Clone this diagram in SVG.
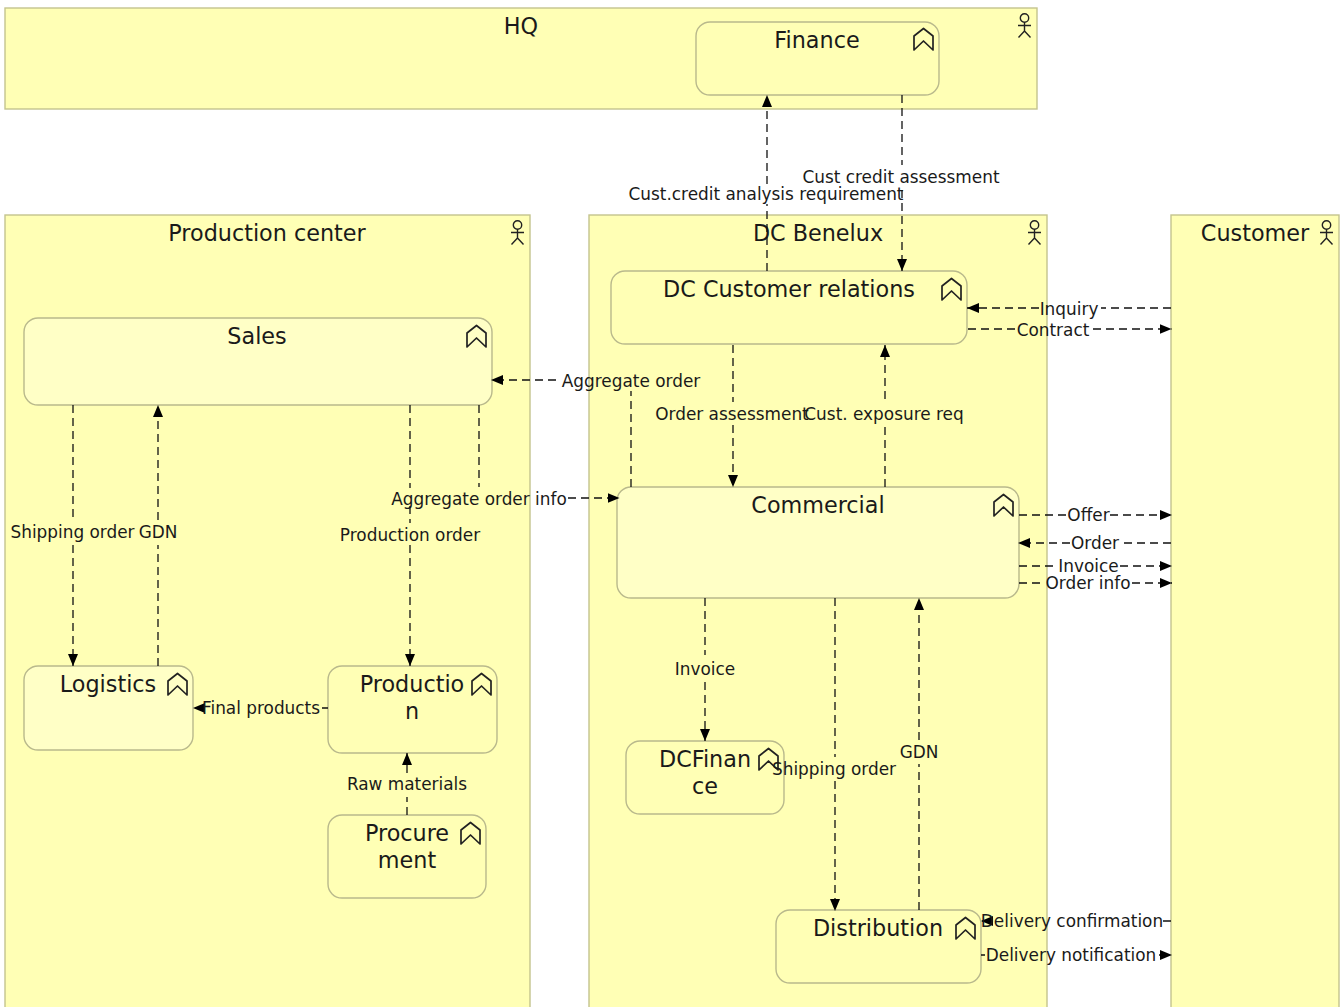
<svg xmlns="http://www.w3.org/2000/svg" width="1344" height="1007" viewBox="0 0 1344 1007">
<style>
text{font-family:"DejaVu Sans",sans-serif;fill:#1a1a1a;text-anchor:middle}
.grp{fill:#ffffb5;stroke:#c4c48e;stroke-width:1.4}
.fn{fill:#ffffb5;stroke:#b9b98c;stroke-width:1.4}
.fl{fill:#ffffc6;stroke:#b9b98c;stroke-width:1.4}
.t{font-size:22.3px}
.e{font-size:16.9px}
.c{fill:none;stroke:#111;stroke-width:1.3;stroke-dasharray:8 5;marker-end:url(#a)}
.n{fill:none;stroke:#111;stroke-width:1.3;stroke-dasharray:8 5}
.i{fill:none;stroke:#222;stroke-width:1.7;stroke-linejoin:round}
</style>
<defs>
<marker id="a" markerUnits="userSpaceOnUse" markerWidth="13" markerHeight="13" refX="12" refY="6.500" orient="auto"><path d="M0 1.500 L12 6.500 L0 11.500 Z" fill="#000"/></marker>
<g id="fi"><path class="i" d="M0 7.500 L9.500 0 L19 7.500 V21.500 L9.500 12.500 L0 21.500 Z"/></g>
<g id="ac"><circle class="i" cx="7" cy="5" r="4.200" style="stroke-width:1.400"/><path class="i" style="stroke-width:1.400" d="M7 9.300 V18 M0.500 12.500 H13.500 M7 18 L1 24.500 M7 18 L13 24.500"/></g>
</defs>
<g id="hq"><rect class="grp" x="5" y="8" width="1032" height="101"/><text class="t" x="521" y="33.500">HQ</text><use href="#ac" x="1017.500" y="13"/></g>
<g id="production-center"><rect class="grp" x="5" y="215" width="525" height="800"/><text class="t" x="267" y="240.500">Production center</text><use href="#ac" x="510.500" y="220"/></g>
<g id="dc-benelux"><rect class="grp" x="589" y="215" width="458" height="800"/><text class="t" x="818" y="240.500">DC Benelux</text><use href="#ac" x="1027.500" y="220"/></g>
<g id="customer"><rect class="grp" x="1171" y="215" width="168" height="800"/><text class="t" x="1255" y="240.500">Customer</text><use href="#ac" x="1319.500" y="220"/></g>
<g id="finance"><rect class="fn" x="696" y="22" width="243" height="73" rx="14"/><text class="t" x="817" y="47.500">Finance</text><use href="#fi" x="914" y="28.500"/></g>
<g id="dc-customer-relations"><rect class="fn" x="611" y="271" width="356" height="73" rx="14"/><text class="t" x="789" y="296.500">DC Customer relations</text><use href="#fi" x="942" y="278.500"/></g>
<g id="sales"><rect class="fl" x="24" y="318" width="468" height="87" rx="14"/><text class="t" x="257" y="343.500">Sales</text><use href="#fi" x="467" y="325.500"/></g>
<g id="commercial"><rect class="fl" x="617" y="487" width="402" height="111" rx="14"/><text class="t" x="818" y="512.500">Commercial</text><use href="#fi" x="994" y="494.500"/></g>
<g id="logistics"><rect class="fl" x="24" y="666" width="169" height="84" rx="14"/><text class="t" x="108" y="691.500">Logistics</text><use href="#fi" x="168" y="673.500"/></g>
<g id="production"><rect class="fn" x="328" y="666" width="169" height="87" rx="14"/><text class="t" x="412" y="691.500">Productio</text><text class="t" x="412" y="718.500">n</text><use href="#fi" x="472" y="673.500"/></g>
<g id="procurement"><rect class="fn" x="328" y="815" width="158" height="83" rx="14"/><text class="t" x="407" y="840.500">Procure</text><text class="t" x="407" y="867.500">ment</text><use href="#fi" x="461" y="822.500"/></g>
<g id="dcfinance"><rect class="fn" x="626" y="741" width="158" height="73" rx="14"/><text class="t" x="705" y="766.500">DCFinan</text><text class="t" x="705" y="793.500">ce</text><use href="#fi" x="759" y="748.500"/></g>
<g id="distribution"><rect class="fn" x="776" y="910" width="205" height="73" rx="14"/><text class="t" x="878" y="935.500">Distribution</text><use href="#fi" x="956" y="917.500"/></g>
<g id="connectors">
<path class="c" d="M767 271 V204 M767 184 V95"/><text class="e" x="766" y="199.500">Cust.credit analysis requirement</text>
<path class="c" d="M902 95 V165 M902 190 V271"/><text class="e" x="901" y="182.500">Cust credit assessment</text>
<path class="c" d="M1171 308 H1101 M1039 308 H967"/><text class="e" x="1069" y="314.500">Inquiry</text>
<path class="c" d="M968 329 H1016 M1093 329 H1171.500"/><text class="e" x="1053" y="335.500">Contract</text>
<path class="c" d="M631 487 V391 M556 380 H491"/><text class="e" x="631" y="386.500">Aggregate order</text>
<path class="n" d="M479 405 V487"/><path class="c" d="M568 498 H619.500"/><text class="e" x="479" y="504.500">Aggregate order info</text>
<path class="c" d="M410 405 V488 M410 506 V523 M410 545 V666"/><text class="e" x="410" y="541">Production order</text>
<path class="c" d="M73 405 V520 M73 545 V666"/><text class="e" x="72.500" y="538">Shipping order</text>
<path class="c" d="M158 666 V545 M158 520 V405"/><text class="e" x="158" y="538">GDN</text>
<path class="c" d="M328 708 H322 M204 708 H193"/><text class="e" x="261" y="714">Final products</text>
<path class="c" d="M407 815 V797 M407 773 V753"/><text class="e" x="407" y="790">Raw materials</text>
<path class="c" d="M733 345 V402 M733 425 V487"/><text class="e" x="732" y="419.500">Order assessment</text>
<path class="c" d="M885 487 V425 M885 399 V345"/><text class="e" x="884" y="419.500">Cust. exposure req</text>
<path class="c" d="M1019 515 H1066 M1110 515 H1172"/><text class="e" x="1088.500" y="521">Offer</text>
<path class="c" d="M1171 543 H1120 M1070 543 H1018"/><text class="e" x="1095" y="549">Order</text>
<path class="c" d="M1019 566 H1054 M1120 566 H1172"/><text class="e" x="1088.500" y="572">Invoice</text>
<path class="c" d="M1019 583 H1045 M1132 583 H1172"/><text class="e" x="1088" y="589">Order info</text>
<path class="c" d="M705 598 V655 M705 682 V741"/><text class="e" x="705" y="675">Invoice</text>
<path class="c" d="M835 598 V757 M835 781 V911"/><text class="e" x="834" y="775">Shipping order</text>
<path class="c" d="M919 910 V764 M919 740 V598"/><text class="e" x="919" y="758">GDN</text>
<path class="c" d="M1171 921 H1163 M990 921 H981"/><text class="e" x="1072" y="927">Delivery confirmation</text>
<path class="c" d="M981 955 H985 M1159 955 H1172"/><text class="e" x="1071" y="961">Delivery notification</text>
</g>
</svg>
